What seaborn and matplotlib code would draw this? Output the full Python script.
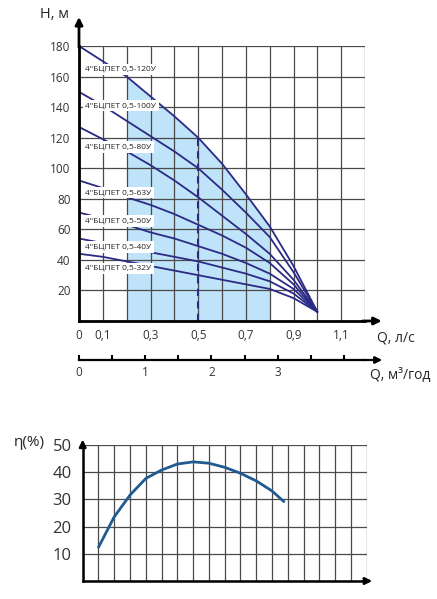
import numpy as np
import pandas as pd
import matplotlib
matplotlib.use('Agg')
import matplotlib.pyplot as plt
import seaborn as sns

# ---- données : courbes H(Q) des pompes 4"БЦПЕТ 0,5 ----
Q = [0.0, 0.1, 0.2, 0.3, 0.4, 0.5, 0.6, 0.7, 0.8, 0.9, 1.0]   # л/с
H_120 = [180, 170, 160, 147, 134, 120, 103, 83, 62, 36, 6]
H_100 = [150, 141, 131, 121, 111, 100, 86, 71, 55, 32, 6]
H_80 = [127, 119, 111, 102, 92, 81, 69, 57, 44, 27, 6]
H_63 = [92, 87, 81, 76, 70, 63, 56, 48, 38, 24, 6]
H_50 = [71, 67, 63, 58, 54, 49, 44, 38, 31, 21, 6]
H_40 = [54, 51, 48, 45, 42, 39, 35, 31, 26, 18, 6]
H_32 = [44, 42, 39, 36, 33, 30, 27, 24, 21, 15, 6]
models = ['120У', '100У', '80У', '63У', '50У', '40У', '32У']

# plage de travail (zone bleue) et point nominal
Q_work = (0.2, 0.8)
Q_nom = 0.5

x_ticks = [0.0, 0.1, 0.2, 0.3, 0.4, 0.5, 0.6, 0.7, 0.8, 0.9, 1.0, 1.1, 1.2]
x_labels = ['0', '0,1', '', '0,3', '', '0,5', '', '0,7', '', '0,9', '', '1,1', '']
y_ticks = [0, 20, 40, 60, 80, 100, 120, 140, 160, 180]
y_labels = ['', '20', '40', '60', '80', '100', '120', '140', '160', '180']
m3_ticks = [0.0, 0.5, 1.0, 1.5, 2.0, 2.5, 3.0, 3.5, 4.0]
m3_labels = ['0', '', '1', '', '2', '', '3', '', '']

# ---- données : rendement ----
eta_x = [1, 2, 3, 4, 5, 6, 7, 8, 9, 10, 11, 12, 12.75]
eta = [12.4, 23.6, 31.6, 37.7, 40.8, 43.0, 43.8, 43.3, 41.8, 39.6, 36.8, 33.1, 29.2]
eta_ticks = [0, 10, 20, 30, 40, 50]
eta_labels = ['', '10', '20', '30', '40', '50']

# position des étiquettes (H) le long de l'axe
LABEL_H = [164.7, 141, 114, 84, 65.6, 48.6, 34.5]

CURVE = '#2b2a85'
FILL = '#bfe3f8'
GRID = '#4a4a4a'
TXT = '#333333'

sns.set_style('white')
plt.rcParams['font.family'] = ['Open Sans', 'DejaVu Sans']

W, Hpx = 437, 599
fig = plt.figure(figsize=(W / 100, Hpx / 100), dpi=100)


def fx(px):
    return px / W


def fy(py):
    return 1 - py / Hpx


# ---------- graphique H(Q) ----------
ax = fig.add_axes([fx(79), fy(321), fx(365 - 79), (321 - 46) / Hpx])
df = pd.DataFrame({
    'Q': Q * len(models),
    'H': H_120 + H_100 + H_80 + H_63 + H_50 + H_40 + H_32,
    'model': [m for m in models for _ in Q],
})
sns.lineplot(data=df, x='Q', y='H', units='model', estimator=None,
             color=CURVE, lw=1.3, ax=ax, zorder=3)

qa = np.array(Q)
mask = (qa >= Q_work[0]) & (qa <= Q_work[1])
ax.fill_between(qa[mask], 0, np.array(H_120)[mask], color=FILL, lw=0, zorder=1)
ax.vlines(Q_nom, 0, H_120[Q.index(Q_nom)], color=CURVE, lw=1.5,
          linestyles=(0, (3.5, 2.5)), zorder=3)

ax.set_xlim(0, 1.2)
ax.set_ylim(0, 180)
ax.set_xticks(x_ticks)
ax.set_xticklabels(x_labels)
ax.set_yticks(y_ticks)
ax.set_yticklabels(y_labels)
ax.tick_params(length=0, labelsize=8.5, labelcolor=TXT, pad=6)
ax.grid(True, color=GRID, lw=0.9, zorder=2)
ax.set_axisbelow(False)
for s in ['top', 'right']:
    ax.spines[s].set_visible(False)
for s in ['left', 'bottom']:
    ax.spines[s].set_color('black')
    ax.spines[s].set_linewidth(2)
    ax.spines[s].set_zorder(4)
ax.set_xlabel('')
ax.set_ylabel('')
for gl in ax.get_xgridlines() + ax.get_ygridlines():
    gl.set_zorder(2)

for m, h in zip(models, LABEL_H):
    ax.text(0.027, h, '4"БЦПЕТ 0,5-' + m, fontsize=6, color='#222222',
            va='center', ha='left', zorder=6,
            bbox=dict(facecolor='white', edgecolor='none', pad=1.6))

arrow = dict(arrowstyle='-|>', color='black', lw=2, mutation_scale=11,
             shrinkA=0, shrinkB=0)
ax.annotate('', xy=(0, 199), xytext=(0, 179), arrowprops=arrow,
            annotation_clip=False)
ax.annotate('', xy=(1.27, 0), xytext=(1.19, 0), arrowprops=arrow,
            annotation_clip=False)

fig.text(fx(54), fy(14), 'H, м', fontsize=10.5, ha='center', va='center')
fig.text(fx(396), fy(338), 'Q, л/с', fontsize=10, ha='center', va='center')

# ---------- second axe : Q en м³/год ----------
ax2 = fig.add_axes([fx(79), fy(360), fx(365 - 79), 0.0001])
ax2.set_xlim(0, 1.2 * 3.6)
ax2.set_ylim(0, 1)
for s in ['top', 'right', 'left']:
    ax2.spines[s].set_visible(False)
ax2.spines['bottom'].set_linewidth(1.6)
ax2.spines['bottom'].set_color('black')
ax2.set_yticks([])
ax2.set_xticks(m3_ticks)
ax2.set_xticklabels(m3_labels)
ax2.tick_params(axis='x', bottom=True, direction='in', length=3.5, width=1.5,
                color='black', labelsize=8.5, labelcolor=TXT, pad=4)
ax2.annotate('', xy=(4.58, 0), xytext=(4.3, 0),
             arrowprops=dict(arrowstyle='-|>', color='black', lw=1.6,
                             mutation_scale=10, shrinkA=0, shrinkB=0),
             annotation_clip=False)
fig.text(fx(400), fy(376), 'Q, м³/год', fontsize=10, ha='center', va='center')

# ---------- graphique rendement ----------
ax3 = fig.add_axes([fx(82.7), fy(581), fx(366.7 - 82.7), (581 - 445) / Hpx])
sns.lineplot(x=eta_x, y=eta, color='#1f5b92', lw=2, ax=ax3, zorder=3)
ax3.set_xlim(0, 18)
ax3.set_ylim(0, 50)
ax3.set_xticks(range(0, 19))
ax3.set_xticklabels([])
ax3.set_yticks(eta_ticks)
ax3.set_yticklabels(eta_labels)
ax3.tick_params(length=0, labelsize=12, labelcolor=TXT, pad=8)
ax3.grid(True, color=GRID, lw=0.9)
for s in ['top', 'right']:
    ax3.spines[s].set_visible(False)
for s in ['left', 'bottom']:
    ax3.spines[s].set_color('black')
    ax3.spines[s].set_linewidth(1.8)
ax3.annotate('', xy=(0, 52), xytext=(0, 49.5),
             arrowprops=dict(arrowstyle='-|>', color='black', lw=1.8,
                             mutation_scale=10, shrinkA=0, shrinkB=0),
             annotation_clip=False)
ax3.annotate('', xy=(18.35, 0), xytext=(17.8, 0),
             arrowprops=dict(arrowstyle='-|>', color='black', lw=1.8,
                             mutation_scale=10, shrinkA=0, shrinkB=0),
             annotation_clip=False)
fig.text(fx(29), fy(443), 'η(%)', fontsize=11, ha='center', va='center')

fig.savefig('out.png', dpi=100)
